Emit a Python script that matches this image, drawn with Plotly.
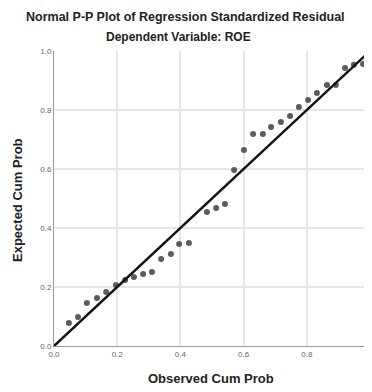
import plotly.graph_objects as go

observed_cum_prob = [0.047, 0.076, 0.104, 0.136, 0.165, 0.196, 0.225, 0.253, 0.282, 0.310,
                     0.339, 0.370, 0.396, 0.427, 0.484, 0.513, 0.541, 0.570, 0.601, 0.630,
                     0.661, 0.687, 0.718, 0.747, 0.775, 0.804, 0.832, 0.864, 0.892, 0.921,
                     0.949, 0.978]
expected_cum_prob = [0.078, 0.098, 0.146, 0.163, 0.183, 0.207, 0.224, 0.234, 0.244, 0.251,
                     0.295, 0.312, 0.346, 0.349, 0.454, 0.468, 0.481, 0.597, 0.664, 0.719,
                     0.719, 0.742, 0.759, 0.780, 0.810, 0.834, 0.858, 0.885, 0.885, 0.942,
                     0.953, 0.956]
ref_line = [0.0, 1.0]
tick_vals = [0.0, 0.2, 0.4, 0.6, 0.8, 1.0]
tick_text = ["0.0", "0.2", "0.4", "0.6", "0.8", "1.0"]

FONT = "Liberation Sans, Arial, sans-serif"
OFF = 8  # page body margin
W, H = 372 - OFF, 392 - OFF
# target plot area in screenshot pixels: x 54..370, y 51..346
ML, MT = 54 - OFF, 51 - OFF
MR = W - (370 - OFF)
MB = H - (346 - OFF)
PW, PH = W - ML - MR, H - MT - MB

fig = go.Figure()
fig.add_trace(go.Scatter(x=observed_cum_prob, y=expected_cum_prob, mode="markers",
                         marker=dict(size=6, color="#5c5c5c"), showlegend=False,
                         cliponaxis=False))
fig.add_trace(go.Scatter(x=ref_line, y=ref_line, mode="lines",
                         line=dict(color="#111111", width=2.5), showlegend=False,
                         cliponaxis=False))

axis_common = dict(range=[0, 1], tickvals=tick_vals, ticktext=tick_text,
                   showgrid=True, gridcolor="#e6e6e6", gridwidth=1.5,
                   showline=True, linecolor="#9a9a9a", linewidth=1,
                   zeroline=False, ticks="", automargin=False,
                   tickfont=dict(family=FONT, size=8, color="#666666"))

fig.update_layout(
    width=W, height=H,
    margin=dict(l=ML, r=MR, t=MT, b=MB),
    paper_bgcolor="white", plot_bgcolor="white",
    xaxis=dict(**axis_common),
    yaxis=dict(**axis_common),
)

def px_x(px):
    return (px - OFF - ML) / PW

def px_y(py):
    return (H - MB - (py - OFF)) / PH

texts = [
    ("<b>Normal P-P Plot of Regression Standardized Residual</b>", 185, 17, 12.5, 0),
    ("<b>Dependent Variable: ROE</b>", 178, 37, 12, 0),
    ("<b>Observed Cum Prob</b>", 211, 378, 13, 0),
    ("<b>Expected Cum Prob</b>", 17, 200, 13, -90),
]
for t, x, y, s, a in texts:
    fig.add_annotation(text=t, x=px_x(x), y=px_y(y), xref="paper", yref="paper",
                       showarrow=False, xanchor="center", yanchor="middle", textangle=a,
                       font=dict(family=FONT, size=s, color="#222222"))

fig.write_html("out.html")
